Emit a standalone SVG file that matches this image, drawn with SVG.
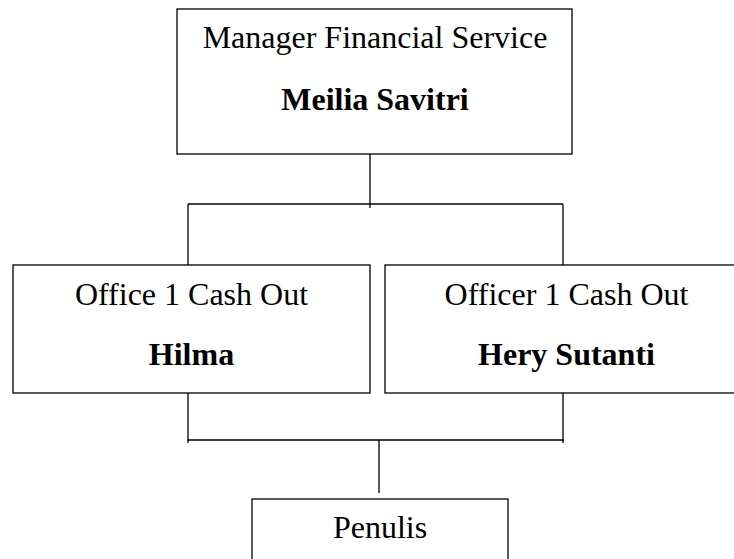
<svg xmlns="http://www.w3.org/2000/svg" width="734" height="559" viewBox="0 0 734 559">
<style>
.box{fill:#fff;stroke:#000;stroke-width:1.3}
.ln{stroke:#000;stroke-width:1.3;fill:none}
.t{font-family:"Liberation Serif","Times New Roman",serif;font-size:32px;fill:#000;text-anchor:middle}
.b{font-weight:bold}
</style>
<rect width="734" height="559" fill="#fff"/>
<g id="connectors">
<line class="ln" x1="370" y1="154" x2="370" y2="208"/>
<line class="ln" x1="188" y1="204" x2="563" y2="204"/>
<line class="ln" x1="188" y1="204" x2="188" y2="265"/>
<line class="ln" x1="563" y1="204" x2="563" y2="265"/>
<line class="ln" x1="188" y1="390" x2="188" y2="443"/>
<line class="ln" x1="563" y1="392" x2="563" y2="443"/>
<line class="ln" x1="187" y1="440" x2="564" y2="440"/>
<line class="ln" x1="379" y1="440" x2="379" y2="493"/>
</g>
<g id="manager">
<rect class="box" x="177" y="9" width="395" height="145"/>
<text class="t" x="375" y="48">Manager Financial Service</text>
<text class="t b" x="375" y="110">Meilia Savitri</text>
</g>
<g id="office1">
<rect class="box" x="13" y="265" width="357" height="128"/>
<text class="t" x="191.5" y="305">Office 1 Cash Out</text>
<text class="t b" x="191.5" y="365">Hilma</text>
</g>
<g id="officer1">
<rect class="box" x="385" y="265" width="370" height="128"/>
<text class="t" x="566.5" y="305">Officer 1 Cash Out</text>
<text class="t b" x="566.5" y="365">Hery Sutanti</text>
</g>
<g id="penulis">
<rect class="box" x="252" y="499" width="256" height="80"/>
<text class="t" x="380" y="538">Penulis</text>
</g>
</svg>
